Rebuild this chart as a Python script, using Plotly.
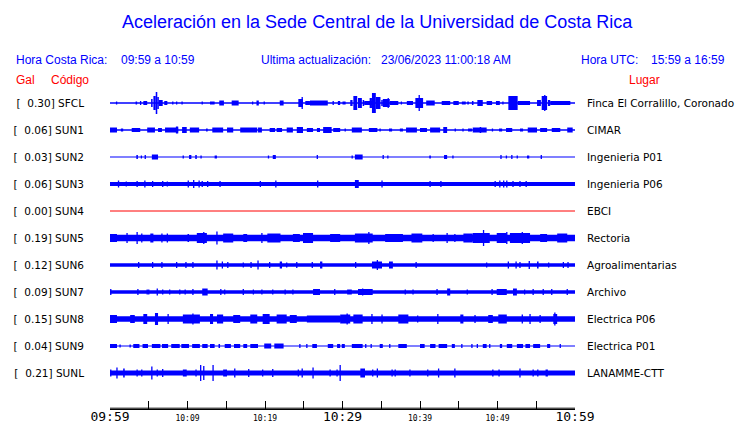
import plotly.graph_objects as go

TITLE = "Aceleración en la Sede Central de la Universidad de Costa Rica"
HORA_CR = "09:59 a 10:59"
HORA_UTC = "15:59 a 16:59"
ACTUALIZACION = "23/06/2023 11:00:18 AM"

STATIONS = ["SFCL", "SUN1", "SUN2", "SUN3", "SUN4", "SUN5", "SUN6", "SUN7", "SUN8", "SUN9", "SUNL"]
PEAK_GAL = [0.30, 0.06, 0.03, 0.06, 0.00, 0.19, 0.12, 0.09, 0.15, 0.04, 0.21]
PLACES = ["Finca El Corralillo, Coronado", "CIMAR", "Ingenieria P01", "Ingenieria P06", "EBCI",
          "Rectoria", "Agroalimentarias", "Archivo", "Electrica P06", "Electrica P01", "LANAMME-CTT"]

# time axis: minutes after 09:59
TICK_MIN = list(range(0, 61, 5))
TICK_LABELS = {0: "09:59", 10: "10:09", 20: "10:19", 30: "10:29", 40: "10:39", 50: "10:49", 60: "10:59"}
BIG_LABELS = [0, 30, 60]

# background noise half-amplitude per station (counts, 27 counts = one row)
NOISE = [0.7, 0.8, 0.55, 1.9, 0.5, 3.3, 1.8, 1.7, 2.8, 0.6, 2.4]

# events: (start minute, end minute, half-amplitude in counts)
SFCL_EV = [(0.8,0.9,1.5),(3.3,3.5,1.5),(3.9,4.0,2),(4.3,4.8,2),(5.3,5.5,4),(5.6,5.9,7),(5.9,6.1,11),
           (6.1,6.3,6),(6.3,6.8,3),(7.0,7.4,2),(8.1,8.1,1.5),(8.6,8.6,1.5),(9.3,9.3,1.5),(11.9,11.9,1.5),
           (12.9,13.5,1.5),(14.1,14.7,2.5),(15.7,16.6,2.5),(18.4,18.4,1.5),(18.9,19.2,2.5),(19.9,19.9,1.5),
           (21.9,22.4,2.5),(24.3,24.9,4),(24.8,24.8,6),(25.2,25.8,2),(25.8,28.1,2.5),(28.8,28.8,2),
           (29.4,29.7,2),(30.0,30.4,1.5),(31.0,31.3,3),(31.4,31.9,7),(32.0,32.5,5),(32.6,32.8,3),
           (32.8,33.8,2),(33.5,33.8,5),(33.8,34.3,10),(34.3,34.9,6),(35.0,35.2,3),(35.2,36.1,4),
           (35.9,35.9,5),(36.1,37.2,2),(37.6,37.6,1.5),(38.3,39.1,2),(39.4,40.4,5),(39.9,39.9,8),
           (40.8,41.9,2.5),(42.8,43.9,2),(44.3,45.0,2),(45.4,45.9,1.5),(46.1,46.3,1.5),(46.7,46.9,2),
           (47.4,48.1,3),(48.6,49.3,2),(49.8,50.3,2),(50.7,50.7,1.5),(51.4,52.6,7),(52.6,54.2,2),
           (55.1,55.6,3),(55.7,56.4,7),(56.1,56.1,8),(56.5,56.8,3),(56.8,59.4,2)]
SUN1_EV = [(0.0,0.9,2.5),(1.4,1.7,1.5),(2.8,3.9,2),(4.8,5.8,2.5),(6.2,6.7,2),(7.1,8.8,2.5),(8.5,8.8,3.5),
           (9.3,9.9,3),(10.3,11.5,2.5),(12.4,12.6,1.5),(13.2,14.6,2.5),(15.1,15.9,2.5),(16.8,19.0,2.5),
           (19.1,19.6,2.5),(20.6,21.3,2),(21.5,22.2,2),(22.8,23.6,2.5),(24.1,24.9,3),(25.4,26.2,2),
           (26.7,27.1,2),(27.5,28.6,3),(28.8,29.7,2),(30.3,30.4,1.5),(31.2,32.5,2.5),(33.4,34.5,2),
           (34.8,34.9,1.5),(36.0,36.4,1.5),(37.4,37.8,1.5),(38.2,39.6,2.5),(40.0,40.9,2),(41.3,42.6,2.5),
           (43.0,43.5,3),(44.5,44.6,1.5),(45.5,45.6,1.5),(46.2,46.7,1.5),(46.8,48.6,2.5),(47.7,47.9,3),
           (49.3,49.4,1.5),(50.2,50.6,1.5),(51.1,51.9,2),(52.9,53.3,1.5),(53.9,55.1,2.5),(55.5,56.4,2),
           (57.0,58.1,2),(59.0,59.7,2.5)]
SUN2_EV = [(3.4,3.6,2),(4.0,4.1,1.5),(4.5,4.6,2),(5.4,6.2,2.5),(9.4,9.5,1.5),(10.2,10.5,2),(11.0,11.2,2),
           (11.7,11.8,1.5),(13.5,13.8,1.5),(20.4,20.5,1.5),(21.0,21.4,2),(26.7,26.8,2),(31.2,31.3,1.5),
           (31.6,32.6,2.5),(35.2,35.3,2),(35.8,35.9,1.5),(41.2,41.4,1.5),(43.1,43.5,2),(44.2,44.3,1.5),
           (50.4,50.5,2),(51.1,51.2,1.5),(51.8,51.9,2),(52.5,52.6,1.5),(53.8,54.1,1.5),(55.6,55.7,2)]
SUN3_EV = [(1.1,1.1,3.5),(2.1,2.1,2.5),(3.5,3.5,3),(4.5,4.5,3.5),(5.5,5.5,3),(6.8,6.8,3),(7.4,7.4,2.5),
           (10.1,10.1,3.5),(10.8,10.8,4),(11.5,11.5,3.5),(11.9,11.9,3),(12.6,12.6,3),(14.2,14.2,3),
           (19.4,19.4,3),(21.4,21.4,3.5),(26.8,26.8,3.5),(31.6,32.1,4),(35.1,35.1,3.5),(41.3,41.3,3),
           (42.7,42.7,3),(49.7,49.7,3),(50.3,50.3,3.5),(50.8,50.8,3.5),(51.2,51.2,3.5),(52.0,52.0,3),
           (52.9,52.9,3),(53.7,53.7,3)]
SUN4_EV = []
SUN5_EV = [(0.0,0.9,4),(2.2,2.2,5),(3.5,3.5,6),(4.1,4.1,4.5),(5.2,5.6,4.5),(6.7,6.7,4.5),(7.4,7.4,4.5),
           (10.0,10.2,4),(11.2,12.5,5),(12.1,12.1,6),(13.8,13.8,6.5),(14.6,15.9,4.5),(17.2,17.7,4),
           (19.6,19.6,5),(20.3,22.0,4.5),(23.6,24.5,4),(24.9,26.2,5),(28.4,29.7,4),(31.6,33.9,4.5),
           (33.4,33.4,6),(35.5,37.8,4),(38.9,40.3,4.5),(41.7,41.7,4),(43.5,43.5,5),(44.5,44.5,4),
           (45.6,46.8,4.5),(46.8,49.0,5),(48.2,48.2,8),(49.9,51.2,5),(51.2,51.2,6),(51.6,54.2,5),
           (53.2,53.2,6),(55.5,56.4,4),(57.7,59.0,4.5)]
SUN6_EV = [(3.7,3.7,3),(5.5,5.5,3),(6.7,6.7,3),(8.6,8.6,3),(9.8,9.8,3),(10.7,10.7,3),(13.8,13.8,4.5),
           (14.5,14.5,3.5),(15.2,15.2,3),(17.2,17.2,2.5),(18.2,18.2,3),(19.1,19.1,4.5),(20.6,20.6,3),
           (21.9,22.2,3.5),(22.8,22.8,2.5),(24.1,24.1,3),(26.1,26.1,3),(27.1,27.4,3.5),(31.7,31.7,3),
           (33.8,35.1,3.5),(34.5,34.5,5),(36.0,36.5,3.5),(39.5,39.5,3),(48.6,48.6,2.5),(51.4,51.4,3.5),
           (52.4,52.4,3.5),(52.9,52.9,3),(54.1,54.1,4),(55.1,55.3,3.5),(56.6,56.6,2.5),(58.5,58.5,3),
           (59.1,59.1,3)]
SUN7_EV = [(0.1,0.1,3),(3.6,3.6,3),(4.8,4.8,2.5),(5.0,5.0,2.5),(6.1,6.1,3.5),(6.8,6.8,2.5),(7.7,7.7,2.5),
           (9.0,9.0,2.5),(9.7,9.7,2.5),(10.7,10.7,3),(11.9,12.6,3.5),(14.3,14.3,3),(14.8,14.8,2.5),
           (17.2,17.2,3),(18.5,18.5,2.5),(19.6,19.6,2.5),(21.0,21.0,2.5),(22.6,22.6,2.5),(23.6,23.6,2.5),
           (26.2,27.1,3),(29.0,29.0,3),(30.6,31.2,2.5),(32.0,33.9,3),(32.6,32.6,3.5),(38.1,38.1,2.5),
           (39.1,39.1,2.5),(42.2,42.2,3),(43.5,43.9,3.5),(46.1,46.1,2.5),(49.3,49.3,3),(49.9,51.2,3),
           (52.0,52.5,3.5),(53.5,53.5,2.5),(54.6,54.6,3),(55.9,55.9,3),(57.0,57.0,3),(59.0,59.0,3)]
SUN8_EV = [(0.0,0.9,4),(2.6,3.2,4),(4.3,4.8,5),(5.8,6.2,6),(7.5,7.5,5),(9.4,11.6,4.5),(10.7,10.7,5.5),
           (12.9,13.3,5),(13.8,14.6,4.5),(15.9,16.8,4),(18.1,19.0,4.5),(19.7,20.6,5),(21.5,22.8,4.5),
           (23.2,24.1,4),(25.4,29.7,3.5),(29.7,31.0,4.5),(30.6,30.6,5.5),(31.4,32.6,4.5),(33.8,33.8,5),
           (35.1,35.1,4.5),(37.2,38.5,4.5),(39.7,39.7,3.5),(42.3,42.3,5),(45.2,45.6,4.5),(47.1,47.1,4),
           (48.8,49.4,4),(50.1,51.2,4.5),(53.2,53.2,4.5),(54.2,54.2,5),(55.5,55.5,4),(57.2,57.7,5),
           (57.4,57.4,6.5)]
SUN9_EV = [(0.0,0.9,2),(1.3,1.3,1.5),(2.6,2.6,1.5),(3.0,3.8,2),(4.2,4.9,2),(5.4,6.5,2),(6.7,7.5,2),
           (7.9,9.0,2),(9.2,10.2,2),(10.6,11.6,2),(11.9,12.6,2),(12.9,13.5,2),(14.0,14.2,2),(14.8,15.6,2),
           (16.0,16.8,2),(17.2,17.7,2),(18.1,19.1,2),(19.9,20.8,2.5),(21.2,22.4,2.5),(24.5,24.5,2),
           (25.4,25.4,2),(26.1,26.7,2),(28.1,28.8,2),(29.3,29.7,2),(29.9,30.3,2),(31.2,32.6,2),(33.0,33.0,2),
           (33.7,33.7,2),(34.8,35.2,2),(36.1,36.1,2),(37.2,38.3,2),(40.0,40.6,2),(41.3,42.0,2),
           (42.4,43.5,2),(44.1,44.5,2),(45.4,45.4,2),(46.7,46.7,2),(47.4,47.4,2),(48.1,48.6,2),
           (49.0,49.0,2),(50.3,50.6,2),(51.2,51.9,2),(52.5,53.3,2),(53.6,54.2,2),(54.6,55.5,2),
           (56.4,56.8,2),(58.1,58.1,2)]
SUNL_EV = [(0.1,0.1,3.5),(0.9,0.9,5.5),(1.7,1.9,4.5),(3.5,3.5,3.5),(4.1,4.1,3.5),(5.4,5.4,6.5),
           (6.1,6.1,3.5),(6.8,6.8,4),(9.4,9.9,3.5),(11.1,11.1,3.5),(11.7,11.7,8),(12.1,12.1,7),
           (13.3,13.3,8),(14.6,15.1,3.5),(16.1,16.1,4.5),(17.9,17.9,4),(19.7,19.7,3.5),(21.0,21.0,4),
           (24.3,24.3,3.5),(24.8,24.8,4.5),(26.2,26.2,5.5),(28.4,28.4,3.5),(29.3,29.3,3.5),(29.7,29.7,8),
           (32.3,32.9,4.5),(33.9,33.9,3.5),(34.5,34.5,4.5),(36.4,36.4,3.5),(36.8,36.8,3.5),(38.7,38.7,3.5),
           (41.0,41.0,3.5),(42.4,42.4,4.5),(44.5,44.5,4.5),(49.4,49.4,3.5),(50.2,50.2,3.5),
           (52.9,52.9,4.5),(54.6,54.6,3.5),(55.2,55.2,3.5),(56.2,56.5,3.5)]
EVENTS = [SFCL_EV, SUN1_EV, SUN2_EV, SUN3_EV, SUN4_EV, SUN5_EV, SUN6_EV, SUN7_EV, SUN8_EV, SUN9_EV, SUNL_EV]

COUNTS_PER_ROW = 27.0
BLUE = "#0000ff"
RED = "#ff0000"
FONT = "DejaVu Sans"
MONO = "DejaVu Sans Mono"
HFONT = "Liberation Sans"

# layout geometry (pixels)
W, H = 740, 423
L, R, T, B = 110, 165, 88, 14
PW, PH = W - L - R, H - T - B
Y_RANGE = [11.333, -0.556]


def px(xp):
    return (xp - L) / PW


def py(yp):
    return (H - B - yp) / PH


fig = go.Figure()
n = len(STATIONS)
rows = list(range(n))

# background traces (noise band)
for i, name in enumerate(STATIONS):
    col = RED if PEAK_GAL[i] == 0 else BLUE
    fig.add_trace(go.Scatter(x=[0, 60], y=[i, i], mode="lines", yaxis="y2",
                             line=dict(color=col, width=max(1.0, 2 * NOISE[i])),
                             hoverinfo="skip", showlegend=False))

# events drawn as bars centred on each row
for i, evs in enumerate(EVENTS):
    if not evs:
        continue
    xs = [(a + b) / 2 for a, b, _ in evs]
    ws = [max(b - a, 0.17) for a, b, _ in evs]
    hs = [2 * amp / COUNTS_PER_ROW for _, _, amp in evs]
    bs = [i - amp / COUNTS_PER_ROW for _, _, amp in evs]
    fig.add_trace(go.Bar(x=xs, y=hs, base=bs, width=ws, marker=dict(color=BLUE, line=dict(width=0)),
                         hoverinfo="skip", showlegend=False))

tick_text = []
for m in TICK_MIN:
    lab = TICK_LABELS.get(m, "")
    if lab and m not in BIG_LABELS:
        lab = '<span style="font-size:8px">' + lab + '</span>'
    tick_text.append(lab)

nb = "\u00a0"
left_text = [f"[{nb}{nb}{g:.2f}]{nb}{s}" for g, s in zip(PEAK_GAL, STATIONS)]

annotations = [
    dict(text=TITLE, x=px(377), y=py(22), xanchor="center", yanchor="middle",
         font=dict(family=HFONT, size=18, color=BLUE)),
    dict(text="Hora Costa Rica:", x=px(14), y=py(60), xanchor="left", yanchor="middle",
         font=dict(family=HFONT, size=12, color=BLUE)),
    dict(text=HORA_CR, x=px(119), y=py(60), xanchor="left", yanchor="middle",
         font=dict(family=HFONT, size=12, color=BLUE)),
    dict(text="Ultima actualización:", x=px(259), y=py(60), xanchor="left", yanchor="middle",
         font=dict(family=HFONT, size=12, color=BLUE)),
    dict(text=ACTUALIZACION, x=px(379), y=py(60), xanchor="left", yanchor="middle",
         font=dict(family=HFONT, size=12, color=BLUE)),
    dict(text="Hora UTC:", x=px(579), y=py(60), xanchor="left", yanchor="middle",
         font=dict(family=HFONT, size=12, color=BLUE)),
    dict(text=HORA_UTC, x=px(649), y=py(60), xanchor="left", yanchor="middle",
         font=dict(family=HFONT, size=12, color=BLUE)),
    dict(text="Gal", x=px(14), y=py(80), xanchor="left", yanchor="middle",
         font=dict(family=HFONT, size=12, color=RED)),
    dict(text="Código", x=px(49), y=py(80), xanchor="left", yanchor="middle",
         font=dict(family=HFONT, size=12, color=RED)),
    dict(text="Lugar", x=px(627), y=py(80), xanchor="left", yanchor="middle",
         font=dict(family=HFONT, size=12, color=RED)),
]
for a in annotations:
    a.update(xref="paper", yref="paper", showarrow=False)

fig.update_layout(
    width=W, height=H, margin=dict(l=L, r=R, t=T, b=B, autoexpand=False),
    paper_bgcolor="white", plot_bgcolor="white", barmode="overlay", showlegend=False,
    xaxis=dict(range=[0, 60], tickvals=TICK_MIN, ticktext=tick_text, ticks="inside", ticklen=8,
               tickcolor="black", tickwidth=1, showline=True, linecolor="black", linewidth=1,
               layer="above traces", showgrid=False, zeroline=False,
               tickfont=dict(family=MONO, size=13, color="black"),
               ticklabelstandoff=-5, fixedrange=True, anchor="y"),
    yaxis=dict(range=Y_RANGE, tickvals=rows, ticktext=left_text, showgrid=False, zeroline=False,
               showline=False, ticks="", tickfont=dict(family=FONT, size=10.5, color="black"),
               ticklabelstandoff=25, fixedrange=True),
    yaxis2=dict(range=Y_RANGE, tickvals=rows, ticktext=PLACES, overlaying="y", side="right",
                showgrid=False, zeroline=False, showline=False, ticks="",
                tickfont=dict(family=FONT, size=10.5, color="black"), ticklabelstandoff=11,
                fixedrange=True),
    shapes=[dict(type="line", xref="x domain", yref="paper", x0=0, x1=1, y0=0.0025, y1=0.0025,
                 line=dict(color="black", width=1), layer="above")],
    annotations=annotations,
)

fig.write_html("out.html", config={"displayModeBar": False, "staticPlot": True},
               post_script="document.body.style.margin='0px';document.body.style.overflow='hidden';")
